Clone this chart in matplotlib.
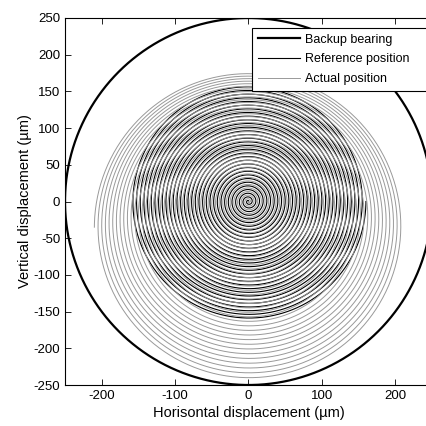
# spiral orbit plot
import numpy as np
import matplotlib
matplotlib.use('Agg')
import matplotlib.pyplot as plt

plt.rcParams['font.family'] = ['Liberation Sans', 'DejaVu Sans']
plt.rcParams['axes.unicode_minus'] = False

# values (um)
bearing_radius = 250
ref_max_radius = 160
ref_turns = 32
act_max_radius = 210
act_turns = 42
act_center_drop = -35     # vertical centre of the last actual orbit
legend_labels = ['Backup bearing', 'Reference position', 'Actual position']
xticks = [-200, -100, 0, 100, 200]
yticks = [-250, -200, -150, -100, -50, 0, 50, 100, 150, 200, 250]

# backup bearing
th = np.linspace(0, 2 * np.pi, 721)
bx = bearing_radius * np.cos(th)
by = bearing_radius * np.sin(th)

# reference spiral
s = np.linspace(0, 1, 9000)
rr = ref_max_radius * s
tr = 2 * np.pi * ref_turns * s
rx = rr * np.cos(tr)
ry = rr * np.sin(tr)

# actual spiral: lags the reference, keeps growing and sinks
s2 = np.linspace(0, 1, 12000)
k = act_turns * s2
ra = act_max_radius * s2
ta = 2 * np.pi * k - np.pi
cy = act_center_drop * s2 ** 2
ax_ = ra * np.cos(ta)
ay_ = ra * np.sin(ta) + cy

fig = plt.figure(figsize=(4.27, 4.26), dpi=100)
ax = fig.add_axes([65 / 427, 41 / 426, 367 / 427, 367 / 426])

ax.plot(bx, by, color='black', lw=1.6, label=legend_labels[0])
ax.plot(rx, ry, color='black', lw=0.8, label=legend_labels[1])
ax.plot(ax_, ay_, color='#999999', lw=0.7, label=legend_labels[2])

ax.set_xlim(-250, 250)
ax.set_ylim(-250, 250)
ax.set_xticks(xticks)
ax.set_yticks(yticks)
ax.tick_params(direction='in', top=True, right=True, labelsize=9.5, length=4, width=0.6)
for sp in ax.spines.values():
    sp.set_linewidth(0.8)
ax.set_xlabel('Horisontal displacement (\u00b5m)', fontsize=10.5, labelpad=3)
ax.set_ylabel('Vertical displacement (\u00b5m)', fontsize=10.5, labelpad=1)

leg = ax.legend(loc='upper left', bbox_to_anchor=(0.51, 0.80, 0.49, 0.173),
                mode='expand', borderaxespad=0, fontsize=9, labelspacing=0.62,
                handlelength=3.4, handletextpad=0.4, borderpad=0.45,
                fancybox=False, framealpha=1, edgecolor='black')
leg.get_frame().set_linewidth(0.8)

plt.savefig('out.png', dpi=100)
